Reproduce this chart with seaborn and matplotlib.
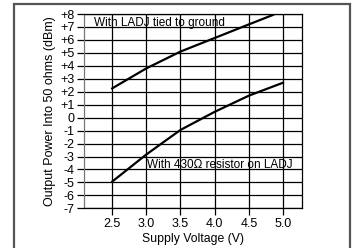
import matplotlib
matplotlib.use("Agg")
import matplotlib.pyplot as plt
import matplotlib.patches as mpatches
import seaborn as sns
import pandas as pd

# Data
volts_top = [2.5, 3.0, 3.5, 4.0, 4.5, 4.86]
power_top = [2.25, 3.8, 5.1, 6.15, 7.2, 7.95]
volts_bot = [2.5, 3.0, 3.5, 4.0, 4.5, 5.0]
power_bot = [-4.95, -2.85, -0.95, 0.45, 1.7, 2.7]
series_names = ["With LADJ tied to ground", "With 430\u03a9 resistor on LADJ"]
x_ticks = [2.5, 3.0, 3.5, 4.0, 4.5, 5.0]
y_ticks = list(range(-7, 9))
y_tick_labels = [("+%d" % v if v > 0 else "%d" % v) for v in y_ticks]

df = pd.concat([
    pd.DataFrame({"V": volts_top, "P": power_top, "s": series_names[0]}),
    pd.DataFrame({"V": volts_bot, "P": power_bot, "s": series_names[1]}),
])

sns.set_theme(style="white")
plt.rcParams["font.family"] = ["Liberation Sans", "DejaVu Sans"]

fig = plt.figure(figsize=(3.57, 2.48), dpi=100)
ax = fig.add_axes([0.236, 0.160, 0.609, 0.7835])

sns.lineplot(data=df, x="V", y="P", units="s", estimator=None, color="black",
             linewidth=1.6, ax=ax, legend=False, sort=True)

ax.set_xlim(2.095, 5.27)
ax.set_ylim(-7, 8)
ax.set_xticks(x_ticks)
ax.set_xticklabels(["%.1f" % v for v in x_ticks], fontsize=9)
ax.set_yticks(y_ticks)
ax.set_yticklabels(y_tick_labels, fontsize=9)
ax.grid(True, color="black", linewidth=0.9)
ax.tick_params(axis="both", which="major", length=5, width=0.9, color="black",
               pad=2, left=True, bottom=True, labelcolor="black")
for side, sp in ax.spines.items():
    sp.set_color("black")
    sp.set_linewidth(0.9)
ax.spines["left"].set_color("#777777")
ax.set_axisbelow(True)

ax.set_xlabel("Supply Voltage (V)", fontsize=8.8, labelpad=2, color="black")
ax.set_ylabel("Output Power Into 50 ohms (dBm)", fontsize=9, labelpad=3, color="black")

ax.text(2.232, 7.05, series_names[0], fontsize=8.5, va="baseline", ha="left", color="black")
ax.text(3.017, -3.85, series_names[1], fontsize=8.5, va="baseline", ha="left", color="black")

frame = mpatches.Rectangle((14 / 357, -0.05), (350 - 14) / 357, 1.05 - 4 / 248,
                           transform=fig.transFigure, fill=False,
                           edgecolor="#555555", linewidth=1.6)
fig.patches.append(frame)

fig.savefig("out.png", dpi=100)
